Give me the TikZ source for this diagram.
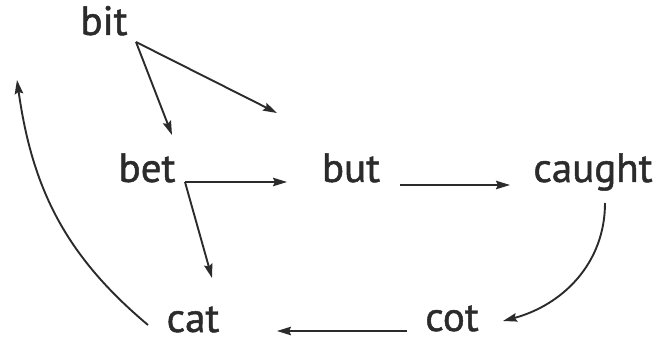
\documentclass[tikz,border=0pt]{standalone}
\usepackage{fontspec}
\setmainfont{PT Sans}
\newfontfamily\wordfont[FakeBold=1.2]{PT Sans}
\usetikzlibrary{arrows.meta}
\definecolor{inkgray}{HTML}{2B2B2B}

\begin{document}
\begin{tikzpicture}[x=1pt,y=-1pt,
    word/.style={anchor=base,inner sep=0pt,text=inkgray,font=\wordfont\fontsize{41}{46}\selectfont},
    arr/.style={draw=inkgray,line width=1.9pt,-{Stealth[length=14pt,width=8.5pt,inset=2pt]}}]
            \useasboundingbox (0,0) rectangle (665,342);

            % Words
            \node[word] (bit) at (104,35) {bit};
            \node[word] (bet) at (147,182) {bet};
            \node[word] (but) at (351,182) {but};
            \node[word] (caught) at (593,182) {caught};
            \node[word] (cat) at (193,332) {cat};
            \node[word] (cot) at (452,331) {cot};
            \coordinate (loose) at (17,80);

            % Arrows from bit
            \draw[arr] ([shift={(32,7)}]bit.base) -- ([shift={(25,-47)}]bet.base);
            \draw[arr] ([shift={(32,7)}]bit.base) -- ([shift={(-74,-69)}]but.base);

            % Arrows from bet
            \draw[arr] ([shift={(38,0)}]bet.base) -- ([shift={(-64,0)}]but.base);
            \draw[arr] ([shift={(38,0)}]bet.base) -- ([shift={(19,-54)}]cat.base);

            % Chain along the bottom
            \draw[arr] ([shift={(49,3)}]but.base) -- ([shift={(-83,3)}]caught.base);
            \draw[arr] ([shift={(12,21)}]caught.base) to[out=-90,in=15] ([shift={(51,-10)}]cot.base);
            \draw[arr] ([shift={(-45,0)}]cot.base) -- ([shift={(84,-1)}]cat.base);
            \draw[arr] ([shift={(-45,-7)}]cat.base) to[out=140,in=-82] (loose);
        \end{tikzpicture}
\end{document}
